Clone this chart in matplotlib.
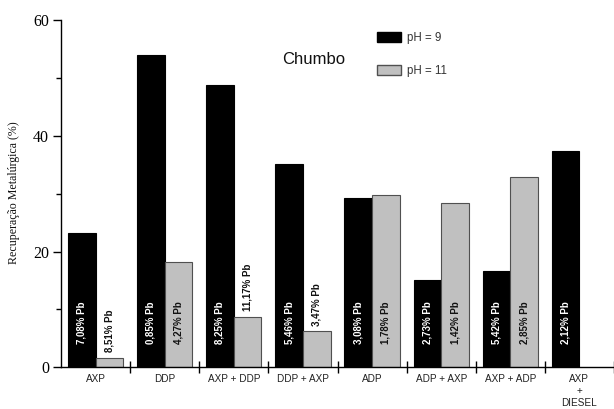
import numpy as np
import matplotlib.pyplot as plt
from matplotlib.patches import Patch

# Recuperação metalúrgica de chumbo por coletor e pH
categorias = ["AXP", "DDP", "AXP + DDP", "DDP + AXP", "ADP",
              "ADP + AXP", "AXP + ADP", "AXP\n+\nDIESEL"]
rec_ph9 = [23.2, 54.0, 48.7, 35.1, 29.3, 15.0, 16.6, 37.3]
rec_ph11 = [1.6, 18.2, 8.7, 6.2, 29.8, 28.4, 32.8, np.nan]
teor_ph9 = ["7,08% Pb", "0,85% Pb", "8,25% Pb", "5,46% Pb",
            "3,08% Pb", "2,73% Pb", "5,42% Pb", "2,12% Pb"]
teor_ph11 = ["8,51% Pb", "4,27% Pb", "11,17% Pb", "3,47% Pb",
             "1,78% Pb", "1,42% Pb", "2,85% Pb", None]

sans = "Liberation Sans"
serif = "Liberation Serif"

fig = plt.figure(figsize=(6.14, 4.09), dpi=100)
ax = fig.add_axes([61 / 614, 1 - 367.3 / 409, 1 - 61 / 614, 347.3 / 409])

x = np.arange(len(categorias)) + 0.5
largura = 0.4

ax.bar(x - largura / 2, rec_ph9, largura, color="black", edgecolor="black",
       linewidth=0.8, zorder=2)
ax.bar(x + largura / 2, rec_ph11, largura, color="#c0c0c0", edgecolor="#505050",
       linewidth=0.8, zorder=2)

# teores: dentro da barra se couber, senão logo acima
base_txt = 4.1
for xi, v, t in zip(x - largura / 2, rec_ph9, teor_ph9):
    ax.text(xi, base_txt, t, rotation=90, ha="center", va="bottom",
            fontsize=7, fontweight="bold", family=sans, color="white", zorder=3)
for xi, v, t in zip(x + largura / 2, rec_ph11, teor_ph11):
    if t is None:
        continue
    y = base_txt if v > 12 else v + 1.0
    ax.text(xi, y, t, rotation=90, ha="center", va="bottom",
            fontsize=7, fontweight="bold", family=sans, color="#111111", zorder=3)

ax.set_xlim(0, len(categorias))
ax.set_ylim(0, 60)

for s in ["top", "right"]:
    ax.spines[s].set_visible(False)
for s in ["left", "bottom"]:
    ax.spines[s].set_linewidth(1.0)

ax.set_yticks([0, 20, 40, 60])
ax.set_yticks([10, 30, 50], minor=True)
ax.tick_params(axis="y", which="major", direction="out", length=6, width=1.0,
               pad=2.5, labelsize=11.5)
ax.tick_params(axis="y", which="minor", direction="out", length=3.5, width=1.0)
for lab in ax.get_yticklabels():
    lab.set_family(serif)

# divisões entre grupos no eixo x, nomes no centro de cada grupo
ax.set_xticks(np.arange(1, len(categorias) + 1))
ax.set_xticklabels([])
ax.tick_params(axis="x", which="major", direction="inout", length=8, width=1.0)
ax.set_xticks(x, minor=True)
ax.set_xticklabels(categorias, minor=True, fontsize=7.2, family=sans,
                   color="#222222", linespacing=1.25)
ax.tick_params(axis="x", which="minor", length=0, pad=5)

fig.text(14 / 614, 1 - 193 / 409, "Recuperação Metalúrgica (%)", rotation=90,
         ha="center", va="center", fontsize=8.6, family=serif, color="#111111")

fig.text(314 / 614, 1 - 60 / 409, "Chumbo", ha="center", va="center",
         fontsize=12, family=sans, color="#111111")

handles = [Patch(facecolor="black", edgecolor="black", label="pH = 9"),
           Patch(facecolor="#c0c0c0", edgecolor="#505050", label="pH = 11")]
leg = fig.legend(handles=handles, loc="upper left",
                 bbox_to_anchor=(377 / 614, 1 - 32 / 409), frameon=False,
                 borderpad=0, borderaxespad=0, handlelength=2.1,
                 handleheight=1.0, labelspacing=1.8, handletextpad=0.5,
                 prop={"family": sans, "size": 8.3})
for t in leg.get_texts():
    t.set_color("#333333")

fig.savefig("out.png", dpi=100)
